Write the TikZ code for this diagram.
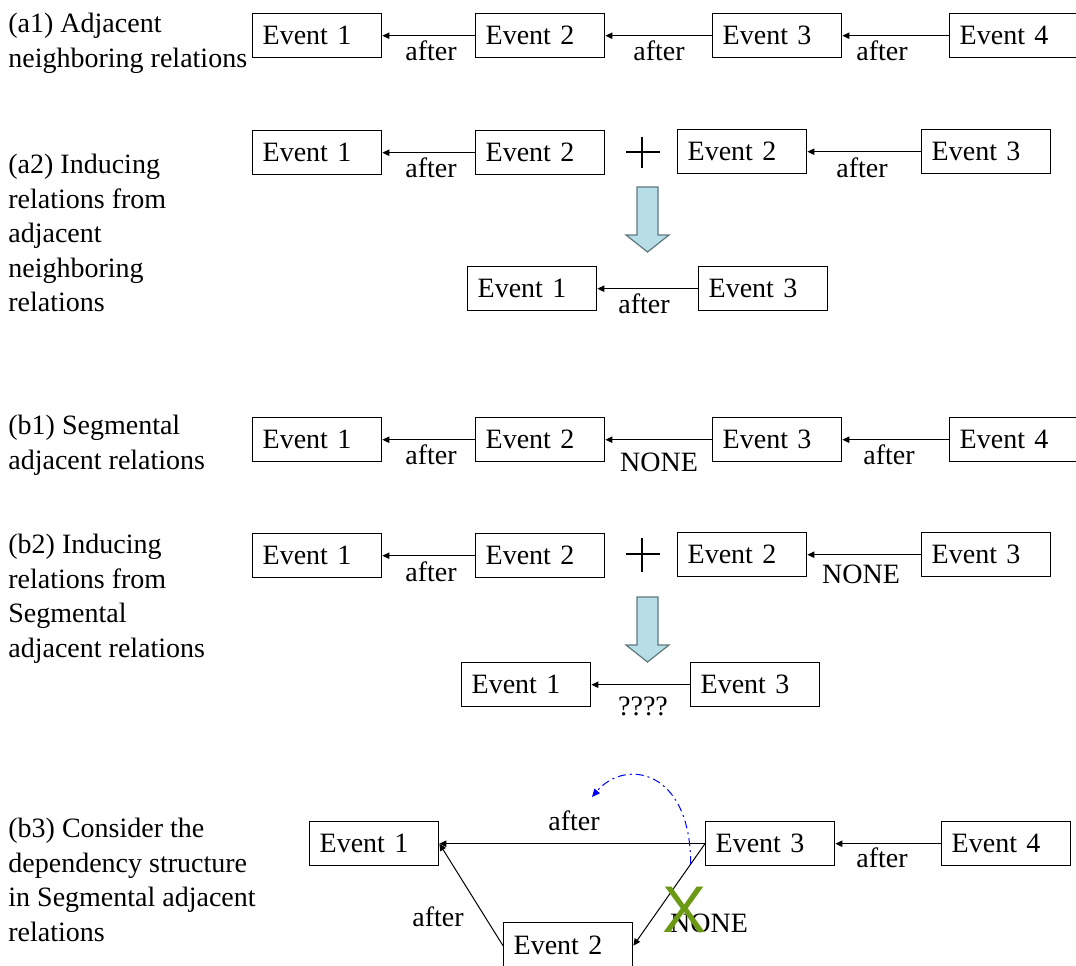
\documentclass[tikz,border=0pt]{standalone}
\usepackage{fontspec}
\setmainfont{Liberation Serif}
\newfontfamily\crossfont{Liberation Sans}
\usetikzlibrary{arrows.meta,calc}
\definecolor{arrowfill}{RGB}{183,222,230}
\definecolor{arrowline}{RGB}{95,120,126}
\definecolor{crossgreen}{RGB}{107,153,20}
\begin{document}
\begin{tikzpicture}[x=0.5pt,y=-0.5pt,
  every node/.style={font=\fontsize{14pt}{17.25pt}\selectfont},
  ev/.style={draw, line width=0.7pt, anchor=north west, minimum height=22pt,
    inner xsep=5pt, inner ysep=0pt, text width=54.5pt, align=left},
  evwide/.style={ev, text width=62pt},
  conn/.style={line width=0.5pt, -{Triangle[length=3.5pt,width=3.2pt]}},
  lbl/.style={anchor=base, inner sep=0pt},
  sidetext/.style={anchor=north west, inner sep=0pt, align=left},
  plussign/.style={line width=1pt},
  blockarrow/.style={fill=arrowfill, draw=arrowline, line width=0.6pt, line join=miter},
  infer/.style={blue, line width=0.5pt, dash pattern=on 4pt off 2pt on 1pt off 2pt,
    -{Triangle[length=4pt,width=3.5pt]}},
]
\clip (0,0) rectangle (1076,965);

% ---------------- (a1) ----------------
\node[sidetext] (ta1) at (8,8) {\strut(a1) Adjacent\\neighboring relations};
\node[ev] (a1e1) at (252,13) {Event 1};
\node[ev] (a1e2) at (475,13) {Event 2};
\node[ev] (a1e3) at (712,13) {Event 3};
\node[evwide] (a1e4) at (949,13) {Event 4};
\draw[conn] (a1e2.west) -- (a1e1.east);
\draw[conn] (a1e3.west) -- (a1e2.east);
\draw[conn] (a1e4.west) -- (a1e3.east);
\node[lbl] (a1l1) at (431,60) {after};
\node[lbl] (a1l2) at (659,60) {after};
\node[lbl] (a1l3) at (882,60) {after};

% ---------------- (a2) ----------------
\node[sidetext] (ta2) at (8,149) {\strut(a2) Inducing\\relations from\\adjacent\\neighboring\\relations};
\node[ev] (a2e1) at (252,130) {Event 1};
\node[ev] (a2e2) at (475,130) {Event 2};
\node[ev] (a2f2) at (677,129) {Event 2};
\node[ev] (a2f3) at (921,129) {Event 3};
\draw[conn] (a2e2.west) -- (a2e1.east);
\draw[conn] (a2f3.west) -- (a2f2.east);
\node[lbl] (a2l1) at (431,177) {after};
\node[lbl] (a2l2) at (862,177) {after};
\draw[plussign] (626,152) -- (660,152) (642,137) -- (642,168);
\draw[blockarrow] (637,187) -- (658,187) -- (658,235) -- (669,235) -- (647.5,252)
  -- (626,235) -- (637,235) -- cycle;
\node[ev] (a2r1) at (467,266) {Event 1};
\node[ev] (a2r3) at (698,266) {Event 3};
\draw[conn] (a2r3.west) -- (a2r1.east);
\node[lbl] (a2l3) at (644,313) {after};

% ---------------- (b1) ----------------
\node[sidetext] (tb1) at (8,410) {\strut(b1) Segmental\\adjacent relations};
\node[ev] (b1e1) at (252,417) {Event 1};
\node[ev] (b1e2) at (475,417) {Event 2};
\node[ev] (b1e3) at (712,417) {Event 3};
\node[evwide] (b1e4) at (949,417) {Event 4};
\draw[conn] (b1e2.west) -- (b1e1.east);
\draw[conn] (b1e3.west) -- (b1e2.east);
\draw[conn] (b1e4.west) -- (b1e3.east);
\node[lbl] (b1l1) at (431,464) {after};
\node[lbl] (b1l2) at (659,471) {NONE};
\node[lbl] (b1l3) at (889,464) {after};

% ---------------- (b2) ----------------
\node[sidetext] (tb2) at (8,529) {\strut(b2) Inducing\\relations from\\Segmental\\adjacent relations};
\node[ev] (b2e1) at (252,533) {Event 1};
\node[ev] (b2e2) at (475,533) {Event 2};
\node[ev] (b2f2) at (677,532) {Event 2};
\node[ev] (b2f3) at (921,532) {Event 3};
\draw[conn] (b2e2.west) -- (b2e1.east);
\draw[conn] (b2f3.west) -- (b2f2.east);
\node[lbl] (b2l1) at (431,581) {after};
\node[lbl] (b2l2) at (861,583) {NONE};
\draw[plussign] (626,554) -- (660,554) (642,538) -- (642,572);
\draw[blockarrow] (637,597) -- (658,597) -- (658,645) -- (669,645) -- (647.5,662)
  -- (626,645) -- (637,645) -- cycle;
\node[ev] (b2r1) at (461,662) {Event 1};
\node[ev] (b2r3) at (690,662) {Event 3};
\draw[conn] (b2r3.west) -- (b2r1.east);
\node[lbl] (b2l3) at (643,715) {????};

% ---------------- (b3) ----------------
\node[sidetext] (tb3) at (8,813) {\strut(b3) Consider the\\dependency structure\\in Segmental adjacent\\relations};
\node[ev] (b3e1) at (309,821) {Event 1};
\node[ev] (b3e3) at (705,821) {Event 3};
\node[ev] (b3e4) at (941,821) {Event 4};
\node[ev, minimum height=23pt] (b3e2) at (503,922) {Event 2};
\draw[conn] (b3e3.west) -- (b3e1.east);
\draw[conn] (b3e4.west) -- (b3e3.east);
\draw[conn] (b3e2.west) -- (b3e1.east);
\draw[conn] (b3e3.west) -- (b3e2.east);
\node[lbl] (b3l1) at (574,830) {after};
\node[lbl] (b3l2) at (882,867) {after};
\node[lbl] (b3l3) at (438,926) {after};
\node[lbl] (b3l4) at (709,932) {NONE};
\node[lbl, text=crossgreen, font=\crossfont\fontsize{33pt}{36pt}\selectfont] (b3x) at (685,932) {X};
\coordinate (bstart) at ($(b3e3.west)!0.2!(b3e2.east)$);
\coordinate (btip) at (592,797);
\draw[infer] (bstart) .. controls +(0,-95) and (625,758) .. (btip);
\end{tikzpicture}
\end{document}
